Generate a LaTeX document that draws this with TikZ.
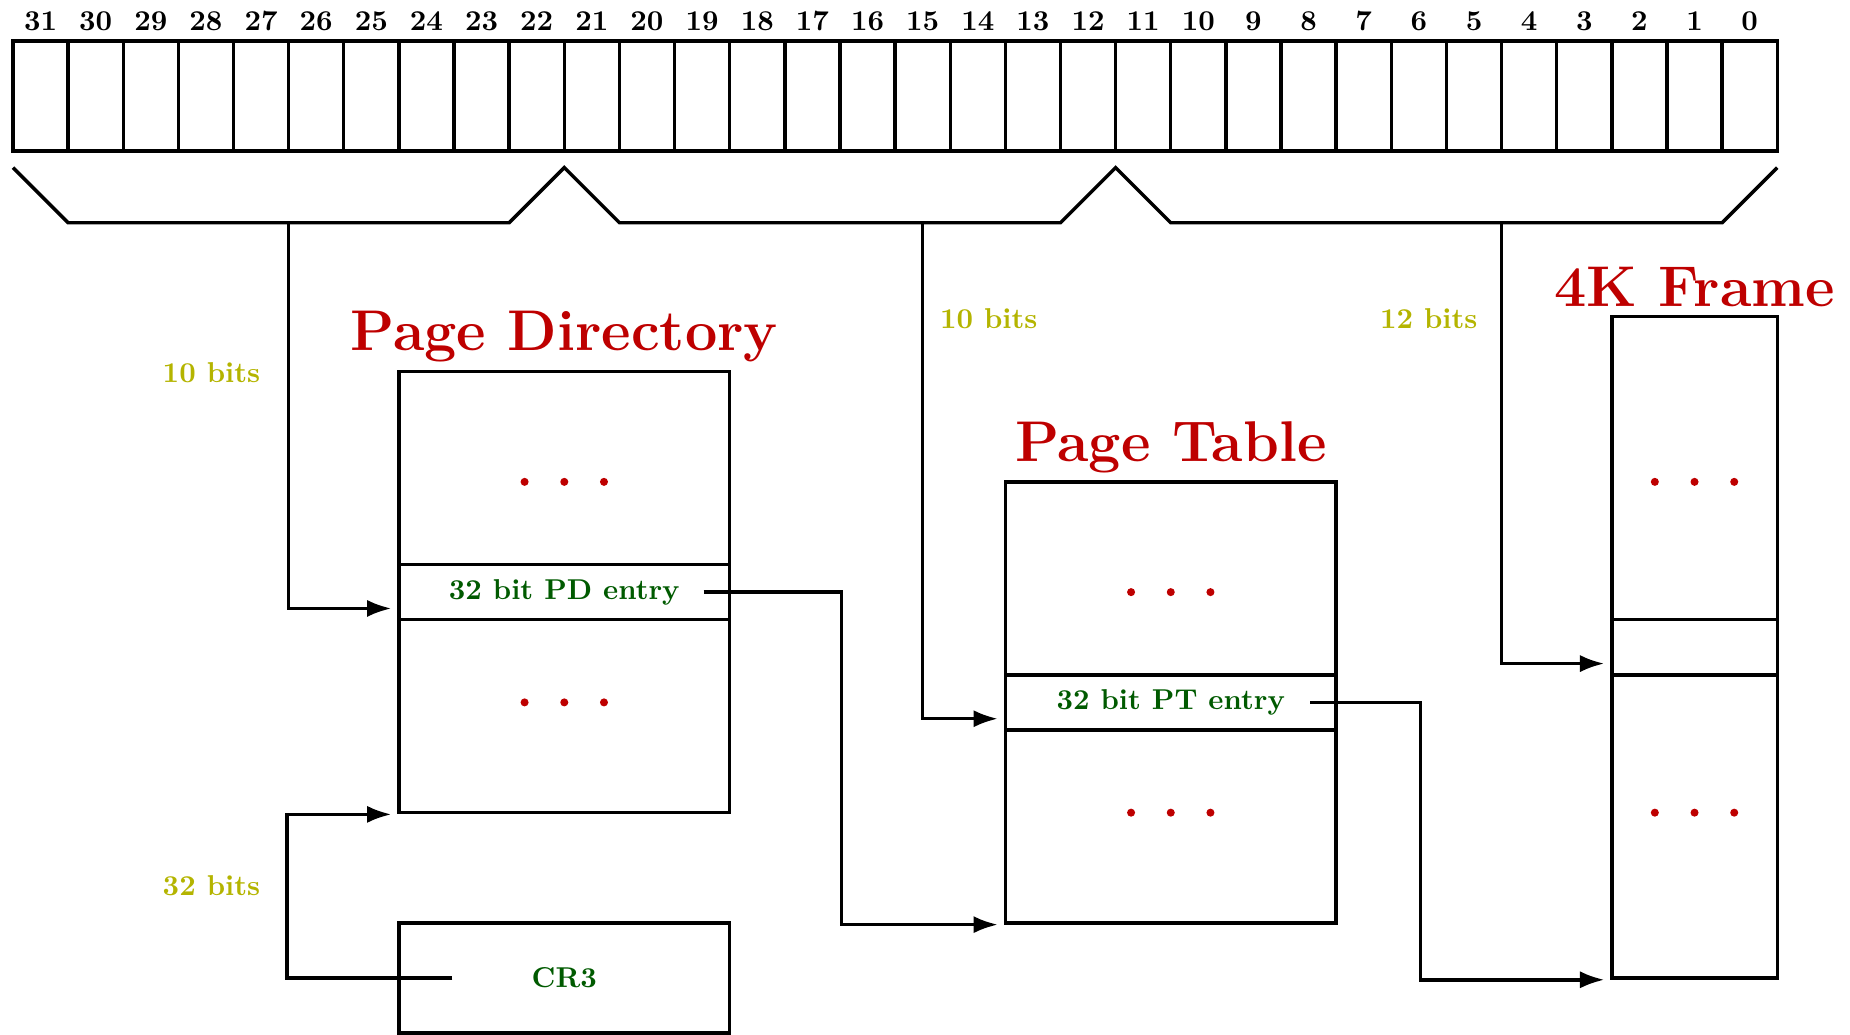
\documentclass[tikz,border=0pt]{standalone}
\usepackage{fontspec}
\usetikzlibrary{positioning,arrows.meta,calc}
\definecolor{titlered}{RGB}{190,0,0}
\definecolor{entrygreen}{RGB}{0,90,0}
\definecolor{bitsolive}{RGB}{180,180,0}

\begin{document}
\begin{tikzpicture}[x=.675cm,y=.675cm,font=\bfseries,line width=1.2pt,
  >={Latex[length=8.5pt,width=6pt]},
  bitcell/.style={draw,minimum width=6.75mm,minimum height=13.5mm,inner sep=0pt},
  bitnum/.style={font=\fontsize{10}{12}\selectfont\bfseries},
  tablebox/.style={draw,minimum width=40.5mm,inner sep=0pt},
  rowbox/.style={draw,minimum height=6.75mm,inner sep=0pt,text=entrygreen},
  boxtitle/.style={font=\fontsize{20}{24}\selectfont\bfseries,text=titlered,inner sep=2pt},
  bitslabel/.style={text=bitsolive},
  link/.style={->,shorten >=2pt},
  dots/.style={fill=titlered}]
 \useasboundingbox (-.235,-16.03) rectangle (33.32,2.74);
 \foreach \b in {0,...,31}{
  \node[bitcell] (bit\b) at (31.5-\b,1) {};
  \node[bitnum] (num\b) at (31.5-\b,2.36) {\b};
 }
 \draw (0,-.3)--(1,-1.3)--(9,-1.3)--(10,-.3)--(11,-1.3)--(19,-1.3)--(20,-.3)
   --(21,-1.3)--(31,-1.3)--(32,-.3);
 \coordinate (dirbits) at (5,-1.3);
 \coordinate (tabbits) at (16.5,-1.3);
 \coordinate (offbits) at (27,-1.3);

 \node[tablebox,minimum height=54mm] (pd) at (10,-8) {};
 \node[rowbox,minimum width=40.5mm] (pdentry) at (pd.center) {32 bit PD entry};
 \node[boxtitle,above=0pt of pd] (pdtitle) {Page Directory};
 \foreach \y in {-6,-10}{\foreach \dx in {-.72,0,.72}{\fill[dots] (10+\dx,\y) circle (1.4pt);}}

 \node[tablebox,minimum height=13.5mm,text=entrygreen] (cr3) at (10,-15) {CR3};

 \node[tablebox,minimum height=54mm] (pt) at (21,-10) {};
 \node[rowbox,minimum width=40.5mm] (ptentry) at (pt.center) {32 bit PT entry};
 \node[boxtitle,above=0pt of pt] (pttitle) {Page Table};
 \foreach \y in {-8,-12}{\foreach \dx in {-.72,0,.72}{\fill[dots] (21+\dx,\y) circle (1.4pt);}}

 \node[tablebox,minimum width=20.25mm,minimum height=81mm] (frame) at (30.5,-9) {};
 \node[rowbox,minimum width=20.25mm] (framerow) at (frame.center) {};
 \node[boxtitle,above=0pt of frame] (frametitle) {4K Frame};
 \foreach \y in {-6,-12}{\foreach \dx in {-.72,0,.72}{\fill[dots] (30.5+\dx,\y) circle (1.4pt);}}

 \node[bitslabel] (lbldir) at (3.6,-4.02) {10 bits};
 \node[bitslabel] (lbltab) at (17.7,-3.04) {10 bits};
 \node[bitslabel] (lbloff) at (25.68,-3.04) {12 bits};
 \node[bitslabel] (lblcr3) at (3.6,-13.33) {32 bits};

 \draw[link] (dirbits) |- ([yshift=-2mm]pdentry.west);
 \draw[link] ([xshift=-3.4mm]pdentry.east) -- ++(2.5,0) |- (pt.south west);
 \draw[link] ([xshift=6.75mm]cr3.west) -- ++(-3,0) |- (pd.south west);
 \draw[link] (tabbits) |- ([yshift=-2mm]ptentry.west);
 \draw[link] ([xshift=-3.4mm]ptentry.east) -- ++(2,0) |- (frame.south west);
 \draw[link] (offbits) |- ([yshift=-2mm]framerow.west);
\end{tikzpicture}
\end{document}
